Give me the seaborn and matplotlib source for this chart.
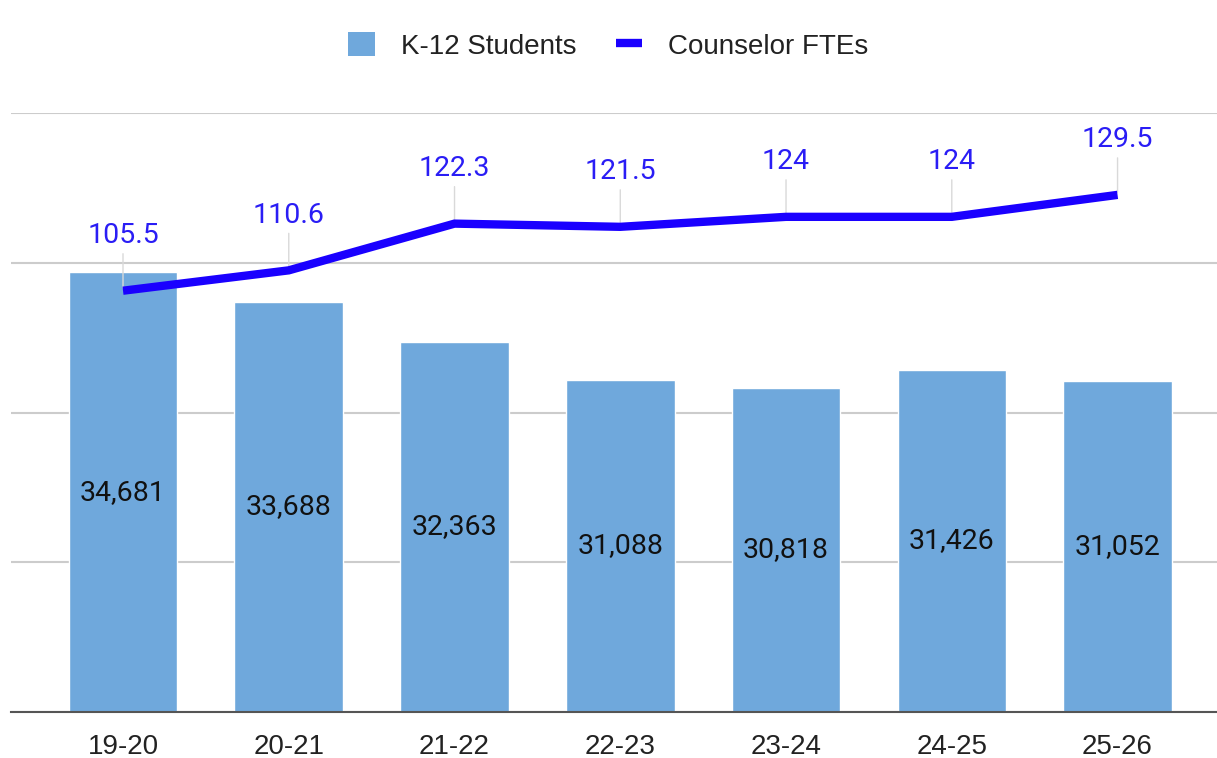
import numpy as np
import pandas as pd
import matplotlib
matplotlib.use("Agg")
import matplotlib.pyplot as plt
from matplotlib.patches import Patch
from matplotlib.lines import Line2D
import seaborn as sns

# data
seasons = ["19-20", "20-21", "21-22", "22-23", "23-24", "24-25", "25-26"]
students = [34681, 33688, 32363, 31088, 30818, 31426, 31052]
counselor_ftes = [105.5, 110.6, 122.3, 121.5, 124, 124, 129.5]

bar_color = "#6fa8dc"
line_color = "#1a00ff"
label_blue = "#2a1df5"

sns.set_theme(style="white")
plt.rcParams["font.family"] = ["Liberation Sans", "DejaVu Sans"]

df = pd.DataFrame({"season": seasons, "students": students, "fte": counselor_ftes})
df["pos"] = np.arange(len(df))

fig = plt.figure(figsize=(12.17, 7.58), dpi=100)
ax = fig.add_axes([0.009, 0.0607, 0.991, 0.7902])

# bars on the left axis
sns.barplot(data=df, x="season", y="students", color=bar_color, width=0.655,
            saturation=1, ax=ax, zorder=2)
ax.bar_label(ax.containers[0], labels=[f"{v:,}" for v in students],
             label_type="center", fontsize=20.5, family="Roboto", color="#111111")

ax.set_ylim(20000, 40000)
ax.set_yticks(np.arange(20000, 40001, 5000))
ax.yaxis.grid(True, color="#cccccc", lw=1.5)
ax.set_axisbelow(True)
ax.set_yticklabels([])
ax.tick_params(axis="y", length=0)
ax.tick_params(axis="x", length=0, pad=16, labelsize=20, labelcolor="#222222")
ax.set_xlim(-0.676, 6.6)
ax.set_xlabel("")
ax.set_ylabel("")
for s in ["top", "left", "right"]:
    ax.spines[s].set_visible(False)
ax.spines["bottom"].set_color("#555555")
ax.spines["bottom"].set_linewidth(1.5)

# counselor FTE line on a hidden right axis
ax2 = ax.twinx()
sns.lineplot(data=df, x="pos", y="fte", color=line_color, lw=6,
             solid_joinstyle="miter", solid_capstyle="butt", ax=ax2, zorder=3)
ax2.set_ylim(0, 150)
ax2.set_xlim(-0.676, 6.6)
ax2.set_yticks([])
ax2.set_ylabel("")
ax2.set_xlabel("")
for s in ["top", "left", "right", "bottom"]:
    ax2.spines[s].set_visible(False)

for p, v in zip(df["pos"], counselor_ftes):
    ax2.annotate(f"{v:g}", xy=(p, v), xytext=(0, 30), textcoords="offset points",
                 ha="center", va="bottom", fontsize=20.5, family="Roboto",
                 color=label_blue,
                 arrowprops=dict(arrowstyle="-", color="#d9d9d9", lw=1,
                                 shrinkA=1, shrinkB=2),
                 zorder=1)

handles = [Patch(facecolor=bar_color, edgecolor="none", label="K-12 Students"),
           Line2D([0], [0], color=line_color, lw=6, solid_capstyle="butt",
                  label="Counselor FTEs")]
fig.legend(handles=handles, loc="center", bbox_to_anchor=(0.5, 0.939), ncol=2,
           frameon=False, fontsize=20, handlelength=0.95, handleheight=0.95,
           columnspacing=1.4, handletextpad=0.95, labelcolor="#222222")

fig.savefig("out.png", dpi=100)
